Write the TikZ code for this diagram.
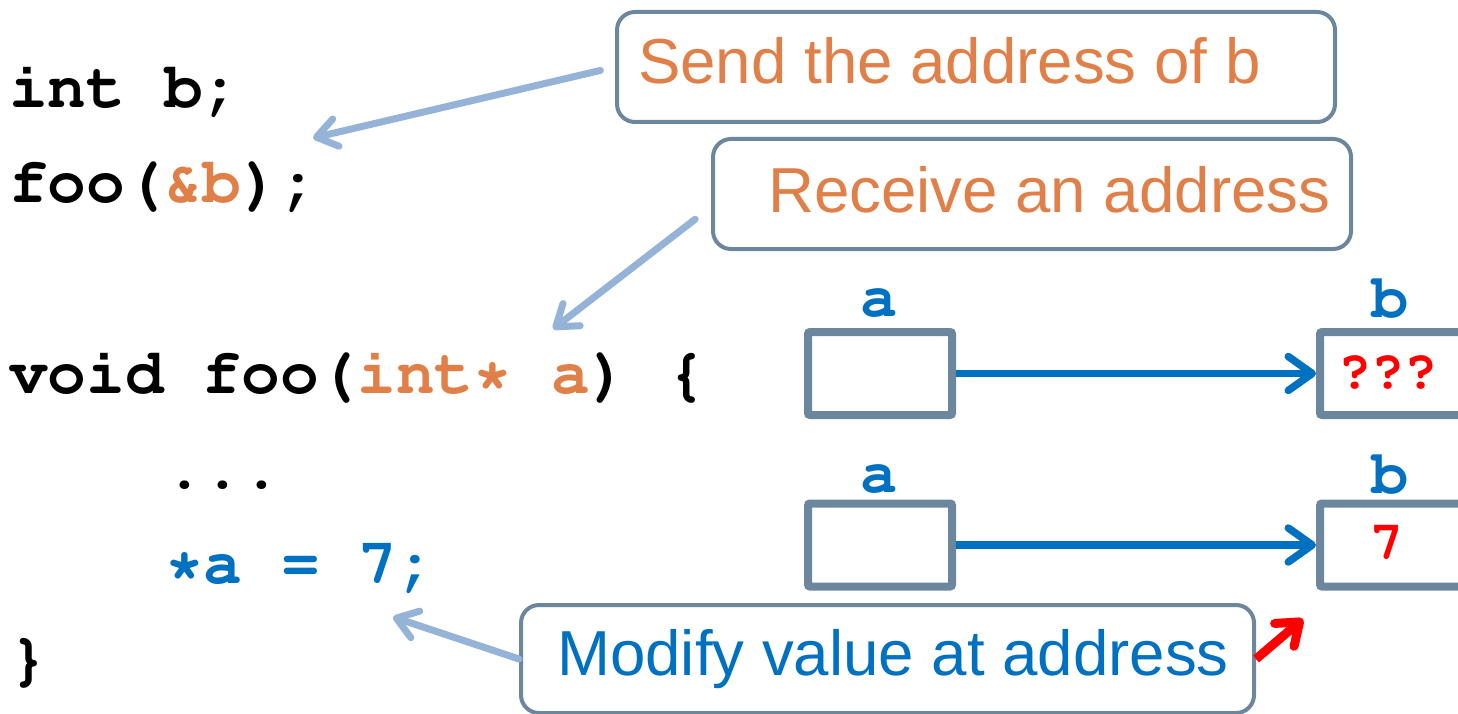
\documentclass[tikz,border=0pt]{standalone}
\usepackage[T1]{fontenc}
\usepackage{fontspec}
\setmainfont{Liberation Sans}
\usetikzlibrary{arrows.meta}

\definecolor{codeorange}{RGB}{224,128,72}
\definecolor{ptrblue}{RGB}{0,112,192}
\definecolor{boxslate}{RGB}{108,135,157}
\definecolor{notearrow}{RGB}{149,179,215}
\definecolor{valred}{RGB}{255,0,0}

% bold Courier (Type 1, T1 encoding) for the code and variable names
\newcommand\codefont[1]{\fontencoding{T1}\fontfamily{pcr}\fontseries{b}\fontshape{n}\fontsize{#1}{#1}\selectfont}

\tikzset{
  codeline/.style={anchor=base west, inner sep=0pt, font={\codefont{64.5}}},
  callout/.style={draw=boxslate, line width=4pt, rounded corners=18pt, inner sep=0pt},
  notetext/.style={anchor=base west, inner sep=0pt, font={\fontsize{63.6}{64}\selectfont}},
  cell/.style={draw=boxslate, line width=8pt, rounded corners=2pt,
    minimum width=144pt, minimum height=83pt, inner sep=0pt},
  varname/.style={anchor=base, inner sep=0pt, text=ptrblue, font={\codefont{62}}},
  cellval/.style={inner sep=0pt, text=valred, font={\codefont{55}}},
  hint/.style={draw=notearrow, line width=7pt, line cap=round,
    -{Straight Barb[length=20pt,width=28pt,round]}},
  pointer/.style={draw=ptrblue, line width=7.5pt,
    -{Straight Barb[length=24pt,width=34pt,round]}},
  alertarrow/.style={draw=valred, line width=9pt,
    -{Straight Barb[length=20pt,width=30pt,round]}},
}

\begin{document}
\begin{tikzpicture}[x=1pt,y=-1pt]
\useasboundingbox (0,0) rectangle (1458,714);

% code listing
\node[codeline] (l1) at (9,108) {int b;};
\node[codeline] (l2) at (9,203) {foo(\textcolor{codeorange}{\&b});};
\node[codeline] (l3) at (9,393) {void foo(\textcolor{codeorange}{int* a}) \{};
\node[codeline] (l4) at (165,488) {...};
\node[codeline, text=ptrblue] (l5) at (165,583) {*a = 7;};
\node[codeline] (l6) at (9,678) {\}};

% memory cells: before and after the assignment
\node[cell] (a1) at (880,373.5) {};
\node[cell] (b1) at (1392,373.5) {};
\node[cell] (a2) at (880,545) {};
\node[cell] (b2) at (1392,545) {};
\node[varname] (na1) at (879,316) {a};
\node[varname] (nb1) at (1390,317) {b};
\node[varname] (na2) at (879,492) {a};
\node[varname] (nb2) at (1390,493) {b};
\node[cellval] (v1) at (1388,373) {???};
\node[cellval] (v2) at (1387,543) {7};
\draw[pointer] (a1.east) -- (b1.west);
\draw[pointer] (a2.east) -- (b2.west);

% callouts
\node[callout, minimum width=718pt, minimum height=110pt] (send) at (976,67) {};
\node[notetext, text=codeorange] (sendtxt) at (638,84) {Send the address of b};
\node[callout, minimum width=638pt, minimum height=110pt] (recv) at (1032,194) {};
\node[notetext, text=codeorange] (recvtxt) at (768,212) {Receive an address};
\node[callout, minimum width=733pt, minimum height=108pt] (modify) at (887.5,659) {};
\node[notetext, text=ptrblue] (modtxt) at (557,675) {Modify value at address};

% callout arrows
\coordinate (t1) at (313,138);
\coordinate (t2) at (553,329);
\coordinate (t3) at (393,617);
\coordinate (t4) at (1303,619);
\draw[hint, shorten <=15pt] (send.west) -- (t1);
\draw[hint, shorten <=20pt] ([yshift=-13pt]recv.west) -- (t2);
\draw[hint] (modify.west) -- (t3);
\draw[alertarrow] (modify.east) -- (t4);
\end{tikzpicture}
\end{document}
